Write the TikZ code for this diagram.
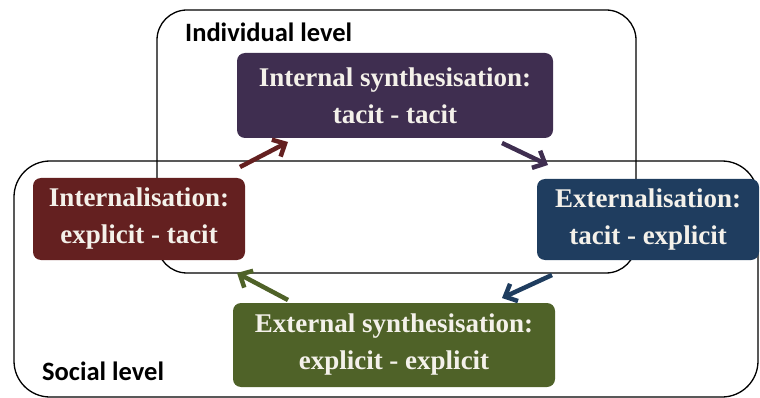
\documentclass[tikz,border=0pt]{standalone}
\usepackage{fontspec}
\setmainfont{Liberation Serif}
\newfontfamily\labelfont{Carlito}
\usetikzlibrary{arrows.meta}
\definecolor{cpurple}{HTML}{3F2E50}
\definecolor{cred}{HTML}{642020}
\definecolor{cnavy}{HTML}{1F3D5F}
\definecolor{colive}{HTML}{4F6228}
\definecolor{ctext}{HTML}{F4F1EA}
\tikzset{
  levelbox/.style={draw=black, line width=1.3pt, rounded corners=30pt},
  modebox/.style={rounded corners=8pt, text=ctext, align=center, inner sep=0pt,
    font=\fontsize{27}{37}\selectfont\bfseries},
  levellabel/.style={anchor=base west, font=\labelfont\bfseries\fontsize{26.5}{30}\selectfont, inner sep=0pt},
  flow/.style={line width=4.5pt, -{Straight Barb[length=10pt,width=19pt,line width=4.5pt]}}
}
\begin{document}
\begin{tikzpicture}[x=1pt,y=-1pt]
\useasboundingbox (0,0) rectangle (760,398);
% level boxes
\draw[levelbox] (157,10) rectangle (636,273);
\draw[levelbox, rounded corners=36pt] (14,161) rectangle (758,397);
\node[levellabel] (ind) at (185,42) {Individual level};
\node[levellabel] (soc) at (42,380) {Social level};
% mode boxes
\node[modebox, fill=cpurple, minimum width=316pt, minimum height=85pt] (isyn) at (395,95.5)
  {Internal synthesisation:\\tacit - tacit};
\node[modebox, fill=cred, minimum width=212pt, minimum height=82pt] (intl) at (139,219)
  {Internalisation:\\explicit - tacit};
\node[modebox, fill=cnavy, minimum width=222pt, minimum height=81pt] (extl) at (648,219.5)
  {Externalisation:\\tacit - explicit};
\node[modebox, fill=colive, minimum width=322pt, minimum height=84pt] (esyn) at (394,345)
  {External synthesisation:\\explicit - explicit};
% arrow endpoints
\coordinate (a1s) at (240,167); \coordinate (a1e) at (288,142);
\coordinate (a2s) at (502,143); \coordinate (a2e) at (548,165);
\coordinate (a3s) at (552,275); \coordinate (a3e) at (502,298);
\coordinate (a4s) at (288,300); \coordinate (a4e) at (237,273);
\draw[flow, draw=cred] (a1s) -- (a1e);
\draw[flow, draw=cpurple] (a2s) -- (a2e);
\draw[flow, draw=cnavy] (a3s) -- (a3e);
\draw[flow, draw=colive] (a4s) -- (a4e);
\end{tikzpicture}
\end{document}
